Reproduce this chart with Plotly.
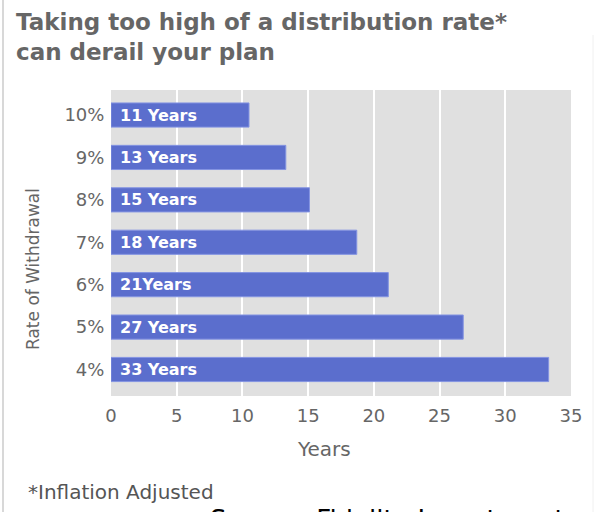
import plotly.graph_objects as go

# Data
rates = ["4%", "5%", "6%", "7%", "8%", "9%", "10%"]
years_values = [33.3, 26.8, 21.1, 18.7, 15.1, 13.3, 10.5]
bar_labels = ["33 Years", "27 Years", "21Years", "18 Years", "15 Years", "13 Years", "11 Years"]
x_ticks = [0, 5, 10, 15, 20, 25, 30, 35]

W, H = 595, 512
L, R, T, B = 111, 571, 90, 396  # plot area pixels

def px(x):
    return (x - L) / (R - L)

def py(y):
    return (B - y) / (B - T)

GRAY = "#666666"
FONT = "DejaVu Sans"

fig = go.Figure()
fig.add_trace(go.Bar(
    x=years_values, y=rates, orientation="h",
    width=0.57,
    marker=dict(color="#5b6ecd", line=dict(color="#8494e2", width=1)),
    hoverinfo="skip",
))

annotations = []
for r, lab in zip(rates, bar_labels):
    annotations.append(dict(
        x=0, y=r, xref="x", yref="y", text=lab, showarrow=False,
        xanchor="left", xshift=7, yanchor="middle",
        font=dict(family=FONT, size=16, color="white", weight="bold"),
    ))

# y axis title
annotations.append(dict(
    x=px(33), y=py(269), xref="paper", yref="paper", text="Rate of Withdrawal",
    textangle=-90, showarrow=False, xanchor="center", yanchor="middle",
    font=dict(family=FONT, size=17, color=GRAY),
))
# x axis title
annotations.append(dict(
    x=px(324), y=py(449), xref="paper", yref="paper", text="Years",
    showarrow=False, xanchor="center", yanchor="middle",
    font=dict(family=FONT, size=20, color=GRAY),
))
# footnote
annotations.append(dict(
    x=px(26), y=py(492), xref="paper", yref="paper", text="*Inflation Adjusted",
    showarrow=False, xanchor="left", yanchor="middle",
    font=dict(family=FONT, size=20, color="#555555"),
))
# source (cut off at bottom, as in the reference)
annotations.append(dict(
    x=px(208), y=py(503), xref="paper", yref="paper", text="Source: Fidelity Investments",
    showarrow=False, xanchor="left", yanchor="top",
    font=dict(family=FONT, size=26, color="#000000"),
))
# title
annotations.append(dict(
    x=px(14), y=py(7), xref="paper", yref="paper",
    text="Taking too high of a distribution rate*<br>can derail your plan",
    showarrow=False, xanchor="left", yanchor="top", align="left",
    font=dict(family=FONT, size=23, color=GRAY, weight="bold"),
))

shapes = [
    dict(type="line", xref="paper", yref="paper", x0=px(3), x1=px(3), y0=py(0), y1=py(512),
         line=dict(color="#d8d8d8", width=2)),
    dict(type="line", xref="paper", yref="paper", x0=px(593), x1=px(593), y0=py(35), y1=py(512),
         line=dict(color="#f0f0f0", width=1)),
]

fig.update_layout(
    width=W, height=H,
    margin=dict(l=L, r=W - R, t=T, b=H - B),
    paper_bgcolor="white", plot_bgcolor="#e0e0e0",
    showlegend=False, bargap=0.4,
    annotations=annotations, shapes=shapes,
    xaxis=dict(range=[0, 35], tickvals=x_ticks, showgrid=True, gridcolor="white", gridwidth=2,
               zeroline=False, showline=False,
               ticks="outside", ticklen=3, tickcolor="rgba(0,0,0,0)",
               tickfont=dict(family=FONT, size=18, color=GRAY)),
    yaxis=dict(type="category", categoryorder="array", categoryarray=rates,
               range=[-0.625, 6.59], showgrid=False, zeroline=False, showline=False,
               ticks="outside", ticklen=2, tickcolor="rgba(0,0,0,0)",
               tickfont=dict(family=FONT, size=18, color=GRAY)),
)

fig.write_html("out.html")
